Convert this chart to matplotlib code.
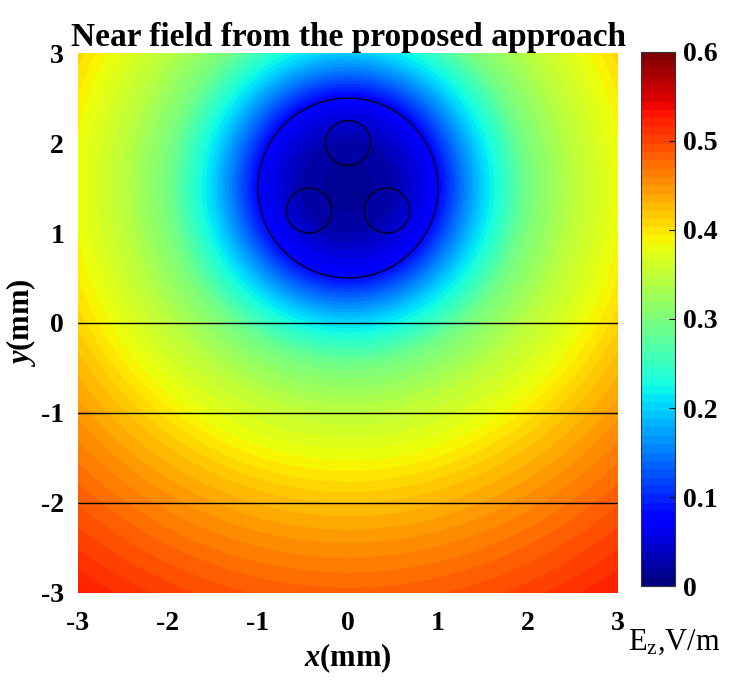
import numpy as np
import matplotlib as mpl
mpl.use("Agg")
from matplotlib import pyplot as plt
from matplotlib.patches import Circle

# radial profile of |Ez| (distance from cable centre, mm)
radiusMm = [0.0, 0.5, 1.0, 1.25, 1.5, 2.0, 2.5, 3.0, 3.5, 4.0, 4.5, 5.0, 5.6]
ezProfile = [0.01, 0.025, 0.075, 0.14, 0.2, 0.295, 0.345, 0.38, 0.42, 0.452, 0.48, 0.505, 0.535]

cableCenter = (0.0, 1.52)
sheathRadius = 1.0
wireCenters = [(0.0, 2.0), (-0.433, 1.25), (0.433, 1.25)]
wireRadius = 0.25
layerLines = [0, -1, -2]
ticks = [-3, -2, -1, 0, 1, 2, 3]
cbarTicks = [0, 0.1, 0.2, 0.3, 0.4, 0.5, 0.6]
cbarLabels = ['0', '0.1', '0.2', '0.3', '0.4', '0.5', '0.6']

plt.rcParams['font.family'] = ['Liberation Serif', 'DejaVu Serif']
plt.rcParams['mathtext.fontset'] = 'custom'
plt.rcParams['mathtext.rm'] = 'Liberation Serif'
plt.rcParams['mathtext.it'] = 'Liberation Serif:italic:bold'
plt.rcParams['mathtext.bf'] = 'Liberation Serif:bold'

x = np.linspace(-3, 3, 401)
y = np.linspace(-3, 3, 401)
X, Y = np.meshgrid(x, y)
R = np.hypot(X - cableCenter[0], Y - cableCenter[1])
Ez = np.interp(R, radiusMm, ezProfile)

fig = plt.figure(figsize=(7.36, 6.8), dpi=100)
ax = fig.add_axes([0.106, 0.128, 0.7337, 0.794])
cax = fig.add_axes([0.8705, 0.138, 0.0467, 0.786])

cmap = plt.get_cmap('jet', 64)
levels = np.linspace(0, 0.6, 65)
cf = ax.contourf(X, Y, Ez, levels=levels, cmap=cmap, vmin=0, vmax=0.6)

ax.add_patch(Circle((0, 1.5), sheathRadius, fill=False, color='black', lw=0.9))
for c in wireCenters:
    ax.add_patch(Circle(c, wireRadius, fill=False, color='black', lw=0.9))
for yl in layerLines:
    ax.axhline(yl, color='black', lw=1.0)

ax.set_xlim(-3, 3)
ax.set_ylim(-3, 3)
ax.set_xticks(ticks)
ax.set_yticks(ticks)
ax.set_xticklabels([str(t) for t in ticks], fontsize=20, fontweight='bold')
ax.set_yticklabels([str(t) for t in ticks], fontsize=20, fontweight='bold')
ax.tick_params(axis='x', length=0, pad=13)
ax.tick_params(axis='y', length=0, pad=10)
for s in ax.spines.values():
    s.set_visible(False)

ax.set_title('Near field from the proposed approach', fontsize=24, fontweight='bold', pad=3)
ax.set_xlabel(r'$\mathit{x}$(mm)', fontsize=22, fontweight='bold', labelpad=4)
ax.set_ylabel(r'$\mathit{y}$(mm)', fontsize=22, fontweight='bold', labelpad=2)

cb = fig.colorbar(cf, cax=cax, ticks=cbarTicks)
cb.ax.set_yticklabels(cbarLabels)
cb.ax.tick_params(direction='in', length=4, width=0.8, labelsize=20, pad=6)
for lab in cb.ax.get_yticklabels():
    lab.set_fontweight('bold')
cb.outline.set_linewidth(0.8)
cb.outline.set_edgecolor('#333333')

fig.text(0.853, 0.045, r'E$_{\mathrm{z}}$,V/m', fontsize=22)

fig.savefig('out.png', dpi=100)
